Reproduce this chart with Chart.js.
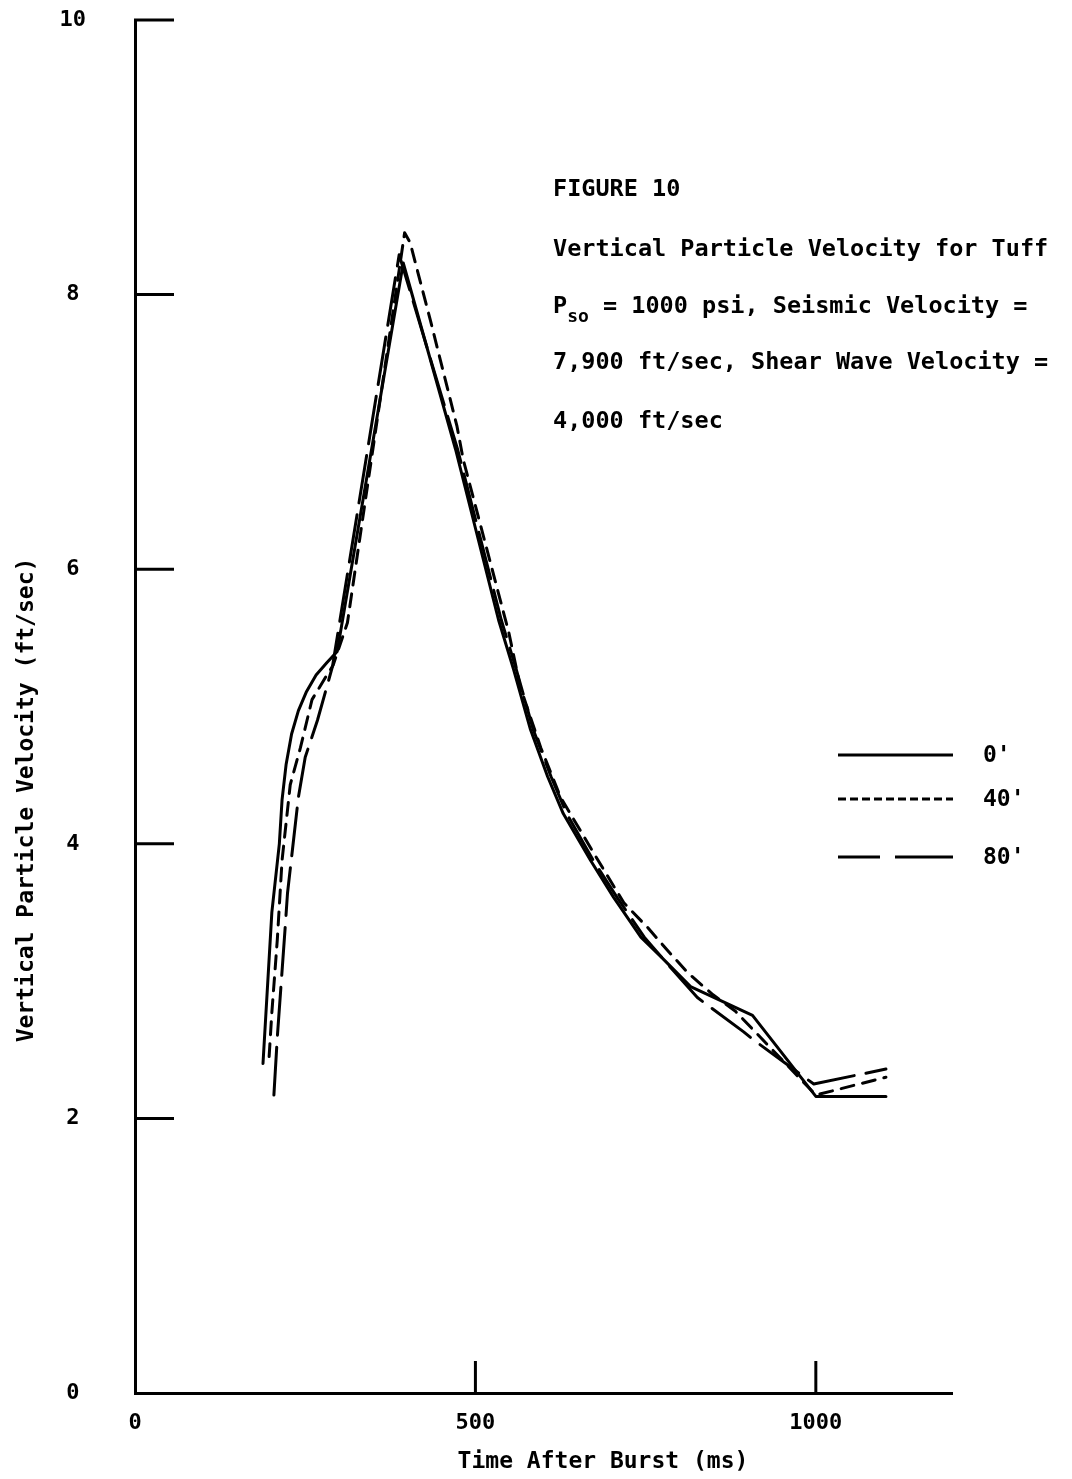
<!DOCTYPE html>
<html>
<head>
<meta charset="utf-8">
<script src="https://cdn.jsdelivr.net/npm/chart.js@4/dist/chart.umd.min.js"></script>
<style>
  html, body { margin: 0; padding: 0; background: #fff; }
  #wrap { width: 1072px; height: 1479px; position: relative; }
</style>
</head>
<body>
<div id="wrap"><canvas id="c"></canvas></div>
<script>
// ---- data ----
const seriesNames = ["0'", "40'", "80'"];

const x0 = [188, 201, 212, 216, 222, 230, 240, 252, 266, 282, 297, 394, 471, 534, 556, 581, 606, 629, 669, 703, 743, 772, 816, 907, 1000, 1103];
const y0 = [2.40, 3.50, 4.00, 4.32, 4.58, 4.80, 4.97, 5.11, 5.23, 5.32, 5.40, 8.23, 6.87, 5.63, 5.27, 4.83, 4.49, 4.22, 3.88, 3.61, 3.32, 3.18, 2.96, 2.75, 2.16, 2.16];

const x40 = [197, 201, 209, 216, 228, 243, 260, 282, 291, 312, 396, 404, 434, 473, 482, 549, 566, 596, 625, 674, 718, 753, 781, 812, 849, 882, 1000, 1103];
const y40 = [2.45, 2.77, 3.30, 3.88, 4.43, 4.70, 5.05, 5.23, 5.30, 5.61, 8.45, 8.38, 7.81, 7.04, 6.80, 5.54, 5.14, 4.70, 4.34, 3.93, 3.57, 3.39, 3.23, 3.06, 2.90, 2.78, 2.17, 2.30];

const x80 = [204, 209, 221, 224, 240, 250, 268, 290, 388, 474, 538, 560, 585, 611, 634, 673, 708, 748, 790, 826, 894, 909, 997, 1103];
const y80 = [2.17, 2.59, 3.42, 3.64, 4.34, 4.63, 4.90, 5.29, 8.29, 6.87, 5.63, 5.27, 4.83, 4.49, 4.22, 3.88, 3.61, 3.32, 3.08, 2.88, 2.63, 2.57, 2.25, 2.36];

const xTicks = [0, 500, 1000];
const xTickLabels = ['0', '500', '1000'];
const yTicks = [0, 2, 4, 6, 8, 10];
const yTickLabels = ['0', '2', '4', '6', '8', '10'];
const xTickMarks = [500, 1000];
const yTickMarks = [2, 4, 6, 8, 10];

const captionLines = ["FIGURE 10", "Vertical Particle Velocity for Tuff", "P|so| = 1000 psi, Seismic Velocity =", "7,900 ft/sec, Shear Wave Velocity =", "4,000 ft/sec"];
const xTitle = "Time After Burst (ms)";
const yTitle = "Vertical Particle Velocity (ft/sec)";

// ---- styling ----
const FONT = '"DejaVu Sans Mono", "Liberation Mono", monospace';
const INK = '#000';

function pts(xs, ys) { return xs.map((x, i) => ({ x: x, y: ys[i] })); }

const datasets = [
  { label: seriesNames[0], data: pts(x0, y0), borderDash: [], legendDash: [] },
  { label: seriesNames[1], data: pts(x40, y40), borderDash: [13, 9], legendDash: [8, 4] },
  { label: seriesNames[2], data: pts(x80, y80), borderDash: [48, 12], legendDash: [42, 15, 60, 10] }
].map(d => Object.assign(d, {
  borderColor: INK, borderWidth: 3, pointRadius: 0, tension: 0, fill: false,
  borderCapStyle: 'round', borderJoinStyle: 'round'
}));

const extras = {
  id: 'extras',
  afterDraw(chart) {
    const ctx = chart.ctx;
    const xs = chart.scales.x, ys = chart.scales.y;
    ctx.save();
    // inside tick marks
    ctx.strokeStyle = INK; ctx.lineWidth = 3; ctx.lineCap = 'butt';
    yTickMarks.forEach(v => {
      const py = ys.getPixelForValue(v);
      ctx.beginPath(); ctx.moveTo(xs.left - 1, py); ctx.lineTo(xs.left + 39, py); ctx.stroke();
    });
    xTickMarks.forEach(v => {
      const px = xs.getPixelForValue(v);
      ctx.beginPath(); ctx.moveTo(px, ys.bottom + 1); ctx.lineTo(px, ys.bottom - 32); ctx.stroke();
    });

    ctx.fillStyle = INK;
    ctx.textBaseline = 'middle';
    // axis titles
    ctx.font = 'bold 23px ' + FONT;
    ctx.textAlign = 'center';
    ctx.fillText(xTitle, 603, 1462);
    ctx.save();
    ctx.translate(27, 800);
    ctx.rotate(-Math.PI / 2);
    ctx.fillText(yTitle, 0, 0);
    ctx.restore();

    // caption
    ctx.textAlign = 'left';
    const capY = [190, 250, 307, 363, 422];
    captionLines.forEach((line, i) => {
      let x = 553;
      const parts = line.split('|');
      parts.forEach((p, j) => {
        if (j % 2 === 1) {
          ctx.font = 'bold 18px ' + FONT;
          ctx.fillText(p, x, capY[i] + 10);
        } else {
          ctx.font = 'bold 23.5px ' + FONT;
          ctx.fillText(p, x, capY[i]);
        }
        x += ctx.measureText(p).width;
      });
    });

    // legend
    const rows = [755, 799, 857];
    chart.data.datasets.forEach((d, i) => {
      ctx.save();
      ctx.strokeStyle = d.borderColor; ctx.lineWidth = 3; ctx.lineCap = 'butt';
      ctx.setLineDash(d.legendDash);
      ctx.beginPath(); ctx.moveTo(838, rows[i]); ctx.lineTo(953, rows[i]); ctx.stroke();
      ctx.restore();
      ctx.font = 'bold 23px ' + FONT;
      ctx.textAlign = 'left';
      ctx.fillText(d.label, 983, rows[i] + 1);
    });
    ctx.restore();
  }
};

new Chart(document.getElementById('c'), {
  type: 'line',
  data: { datasets: datasets },
  options: {
    responsive: true,
    maintainAspectRatio: false,
    animation: false,
    layout: { padding: { left: 0, top: 20, right: 120, bottom: 0 } },
    plugins: { legend: { display: false }, tooltip: { enabled: false } },
    scales: {
      x: {
        type: 'linear', min: 0, max: 1200,
        afterBuildTicks: s => { s.ticks = xTicks.map(v => ({ value: v })); },
        afterFit: s => { s.height = 86; },
        grid: { display: false, drawTicks: false, tickLength: 0 },
        border: { display: true, color: INK, width: 3 },
        ticks: {
          color: INK, padding: 17, maxRotation: 0, autoSkip: false,
          font: { family: FONT, weight: 'bold', size: 22 },
          callback: (v, i) => xTickLabels[i]
        }
      },
      y: {
        type: 'linear', min: 0, max: 10,
        afterBuildTicks: s => { s.ticks = yTicks.map(v => ({ value: v })); },
        afterFit: s => { s.width = 135; s.paddingTop = 13; s.paddingBottom = 13; },
        grid: { display: false, drawTicks: true, tickLength: 49 },
        border: { display: true, color: INK, width: 3 },
        ticks: {
          color: INK, padding: 0, crossAlign: 'center', autoSkip: false,
          font: { family: FONT, weight: 'bold', size: 22 },
          callback: (v, i) => yTickLabels[i]
        }
      }
    }
  },
  plugins: [extras]
});
</script>
</body>
</html>
